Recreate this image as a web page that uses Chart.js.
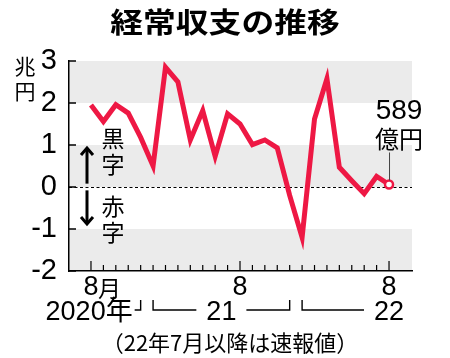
<!DOCTYPE html>
<html><head><meta charset="utf-8">
<script src="https://cdn.jsdelivr.net/npm/chart.js@4/dist/chart.umd.min.js"></script>
<style>html,body{margin:0;padding:0;background:#fff}canvas{display:block}</style>
</head><body>
<canvas id="c" width="450" height="358"></canvas>
<script>
// ---- data ----
const categories = ['2020/8','2020/9','2020/10','2020/11','2020/12',
  '2021/1','2021/2','2021/3','2021/4','2021/5','2021/6','2021/7','2021/8','2021/9','2021/10','2021/11','2021/12',
  '2022/1','2022/2','2022/3','2022/4','2022/5','2022/6','2022/7','2022/8'];
const balance = [1.95, 1.56, 1.96, 1.76, 1.18,
  0.50, 2.85, 2.50, 1.12, 1.82, 0.73, 1.74, 1.50, 1.01, 1.12, 0.93, -0.20,
  -1.20, 1.62, 2.58, 0.47, 0.15, -0.16, 0.25, 0.06];
const yTicks = [-2, -1, 0, 1, 2, 3];
const xTickIndex = [0, 12, 24];
const xTickText = ['8', '8', '8'];
const yearLabels = ['2020年', '21', '22'];
const yearStart = [0, 5, 17];
const yearEnd = [4, 16, 24];
const titleText = '経常収支の推移';
const unitText = ['兆', '円'];
const lastLabel = ['589', '億円'];
const noteText = '（22年7月以降は速報値）';

const RED = '#ee1844';
const GRAY = '#ebebeb';
const NUM = "'Liberation Sans', Arial, sans-serif";
const CJK = "'Noto Sans CJK JP', sans-serif";

const decor = {
  id: 'decor',
  beforeDraw(chart) {
    const {ctx, chartArea: a, scales: {y}} = chart;
    ctx.save();
    ctx.fillStyle = GRAY;
    [[2,3],[0,1],[-2,-1]].forEach(([lo,hi]) => {
      const t = y.getPixelForValue(hi), b = y.getPixelForValue(lo);
      ctx.fillRect(a.left, t, a.right - a.left, b - t);
    });
    ctx.restore();
  },
  beforeDatasetsDraw(chart) {
    const {ctx, chartArea: a, scales: {x, y}} = chart;
    ctx.save();
    // zero dashed line
    ctx.strokeStyle = '#000'; ctx.lineWidth = 1; ctx.setLineDash([3, 2.5]);
    const y0 = Math.round(y.getPixelForValue(0)) + 0.5;
    ctx.beginPath(); ctx.moveTo(a.left, y0); ctx.lineTo(a.right, y0); ctx.stroke();
    ctx.setLineDash([]);
    // y ticks (inward)
    ctx.lineWidth = 1.5;
    yTicks.forEach(v => {
      const py = y.getPixelForValue(v);
      ctx.beginPath(); ctx.moveTo(a.left, py); ctx.lineTo(a.left + 7, py); ctx.stroke();
    });
    // x ticks (inward)
    ctx.lineWidth = 1.2;
    categories.forEach((c, i) => {
      const px = x.getPixelForValue(i);
      const len = xTickIndex.includes(i) ? 10 : 6;
      ctx.beginPath(); ctx.moveTo(px, a.bottom); ctx.lineTo(px, a.bottom - len); ctx.stroke();
    });
    // arrows
    const ax = a.left + 18;
    ctx.lineWidth = 3; ctx.lineCap = 'butt'; ctx.lineJoin = 'miter';
    const arrow = (from, to) => {
      const p1 = y.getPixelForValue(from), p2 = y.getPixelForValue(to);
      const dir = p2 < p1 ? 1 : -1;
      ctx.beginPath(); ctx.moveTo(ax, p1); ctx.lineTo(ax, p2); ctx.stroke();
      ctx.beginPath(); ctx.moveTo(ax - 6, p2 + dir * 7); ctx.lineTo(ax, p2); ctx.lineTo(ax + 6, p2 + dir * 7); ctx.stroke();
    };
    arrow(0.08, 0.93);
    arrow(-0.08, -0.88);
    ctx.fillStyle = '#000';
    ctx.font = '23px ' + CJK; ctx.textAlign = 'center'; ctx.textBaseline = 'middle';
    const tx = a.left + 44;
    ctx.fillText('黒', tx, y.getPixelForValue(1.15));
    ctx.fillText('字', tx, y.getPixelForValue(0.55));
    ctx.fillText('赤', tx, y.getPixelForValue(-0.47));
    ctx.fillText('字', tx, y.getPixelForValue(-1.07));
    ctx.restore();
  },
  afterDraw(chart) {
    const {ctx, chartArea: a, scales: {x, y}} = chart;
    ctx.save();
    ctx.fillStyle = '#000'; ctx.textBaseline = 'middle';
    // title
    ctx.save();
    ctx.font = 'bold 28px ' + CJK; ctx.textAlign = 'center';
    ctx.translate(225, 22); ctx.scale(1.17, 1);
    ctx.fillText(titleText, 0, 0);
    ctx.restore();
    // unit
    ctx.font = '21px ' + CJK; ctx.textAlign = 'center';
    ctx.fillText(unitText[0], 25, a.top + 5);
    ctx.fillText(unitText[1], 25, a.top + 30);
    // 月 after first tick label
    ctx.font = '23px ' + CJK; ctx.textAlign = 'left';
    ctx.fillText('月', x.getPixelForValue(xTickIndex[0]) + 7, a.bottom + 17);
    // year row
    const ry = 313, by = 310, bt = 300;
    ctx.font = '27px ' + NUM + ", 'Noto Sans CJK JP'";
    ctx.strokeStyle = '#000'; ctx.lineWidth = 1.4;
    const line = (pts) => { ctx.beginPath(); ctx.moveTo(pts[0][0], pts[0][1]); pts.slice(1).forEach(p => ctx.lineTo(p[0], p[1])); ctx.stroke(); };
    // 2020
    const e0 = x.getPixelForValue(yearEnd[0]);
    ctx.textAlign = 'right';
    ctx.fillText(yearLabels[0], e0 - 8, ry);
    line([[e0 - 6, by], [e0, by], [e0, bt]]);
    // 21
    const s1 = x.getPixelForValue(yearStart[1]), e1 = x.getPixelForValue(yearEnd[1]);
    const m1 = (s1 + e1) / 2;
    ctx.textAlign = 'center';
    ctx.fillText(yearLabels[1], m1, ry);
    const w1 = ctx.measureText(yearLabels[1]).width / 2 + 10;
    line([[s1, bt], [s1, by], [m1 - w1, by]]);
    line([[m1 + w1, by], [e1, by], [e1, bt]]);
    // 22
    const s2 = x.getPixelForValue(yearStart[2]), e2 = x.getPixelForValue(yearEnd[2]);
    ctx.fillText(yearLabels[2], e2, ry);
    const w2 = ctx.measureText(yearLabels[2]).width / 2 + 10;
    line([[s2, bt], [s2, by], [e2 - w2, by]]);
    // note
    ctx.font = '22px ' + CJK; ctx.textAlign = 'center';
    ctx.fillText(noteText, 230, 343);
    // last value label
    const li = balance.length - 1;
    const lx = x.getPixelForValue(li), ly = y.getPixelForValue(balance[li]);
    ctx.font = '28px ' + NUM; ctx.textAlign = 'center';
    ctx.fillText(lastLabel[0], lx + 10, ly - 73);
    ctx.font = '24px ' + CJK;
    ctx.fillText(lastLabel[1], lx + 10, ly - 46);
    ctx.strokeStyle = '#444'; ctx.lineWidth = 1;
    ctx.beginPath(); ctx.moveTo(lx + 0.5, ly - 32); ctx.lineTo(lx + 0.5, ly - 4); ctx.stroke();
    ctx.restore();
  }
};

new Chart(document.getElementById('c'), {
  type: 'line',
  data: {
    datasets: [{
      data: balance.map((v, i) => ({x: i, y: v})),
      borderColor: RED,
      borderWidth: 5,
      borderJoinStyle: 'miter',
      tension: 0,
      pointRadius: ctx => ctx.dataIndex === balance.length - 1 ? 4 : 0,
      pointBackgroundColor: '#fff',
      pointBorderColor: RED,
      pointBorderWidth: 2.5,
      clip: false
    }]
  },
  options: {
    responsive: false,
    animation: false,
    devicePixelRatio: 1,
    layout: {padding: {top: 61, right: 38, left: 0, bottom: 0}},
    plugins: {legend: {display: false}, tooltip: {enabled: false}, title: {display: false}},
    scales: {
      x: {
        type: 'linear', position: 'bottom',
        min: -1.77, max: 25.85,
        grid: {display: false, drawTicks: false},
        border: {display: true, color: '#000', width: 1.5},
        afterBuildTicks: s => { s.ticks = xTickIndex.map(v => ({value: v})); },
        afterFit: s => { s.height = 87; },
        ticks: {
          autoSkip: false, maxRotation: 0, padding: 0, color: '#000',
          font: {family: NUM, size: 27},
          callback: (v) => xTickText[xTickIndex.indexOf(v)]
        }
      },
      y: {
        min: -2, max: 3,
        grid: {display: false, drawTicks: false},
        border: {display: true, color: '#000', width: 1.5},
        afterBuildTicks: s => { s.ticks = yTicks.map(v => ({value: v})); },
        afterFit: s => { s.width = 69; },
        ticks: {padding: 12, color: '#000', font: {family: NUM, size: 29}}
      }
    }
  },
  plugins: [decor]
});
</script>
</body></html>
